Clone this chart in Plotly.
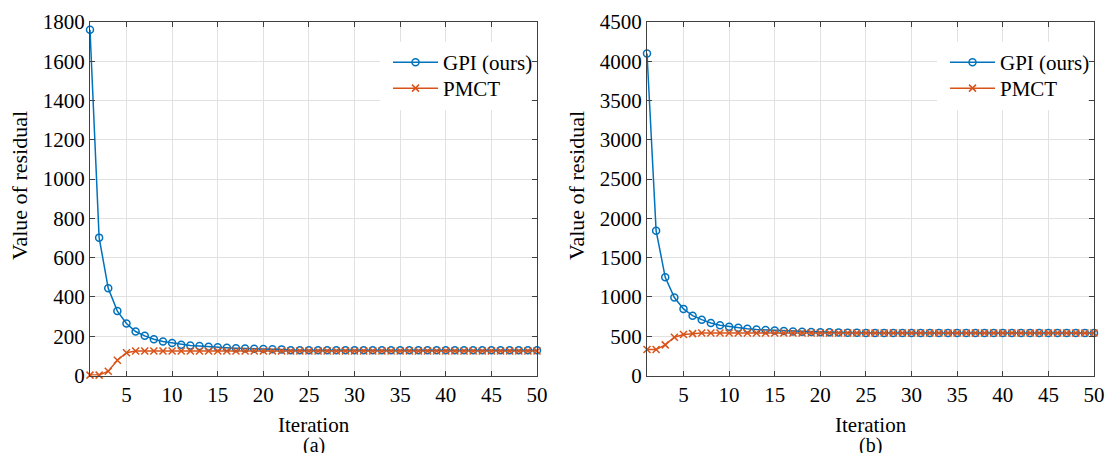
import plotly.graph_objects as go
from plotly.subplots import make_subplots

iterations = list(range(1, 51))

# (a)
gpi_a = [1760, 702, 444, 328, 265, 224, 202, 185, 173, 166, 157, 153, 150, 146, 144,
         141, 139, 137, 136, 135, 134, 133] + [128] * 28
pmct_a = [2, 2, 22, 78, 116, 125] + [125] * 44

# (b)
gpi_b = [4100, 1842, 1250, 992, 848, 762, 711, 669, 640, 622, 609, 595, 585, 580, 572,
         565, 560, 557, 554, 551, 549, 547, 545, 544] + [542] * 26
pmct_b = [330, 330, 390, 487, 521, 533] + [540] * 44

x_ticks = [5, 10, 15, 20, 25, 30, 35, 40, 45, 50]
y_ticks_a = list(range(0, 1801, 200))
y_ticks_b = list(range(0, 4501, 500))

BLUE = "#0072BD"
ORANGE = "#D95319"
FONT = "Liberation Serif"
FS = 21

fig = make_subplots(rows=1, cols=2)

def add(col, gpi, pmct, leg_gpi, leg_pmct):
    fig.add_trace(go.Scatter(x=iterations, y=gpi, mode="lines+markers", name="GPI (ours)",
                             line=dict(color=BLUE, width=1.5),
                             marker=dict(symbol="circle-open", size=7, color=BLUE, line=dict(width=1.5)),
                             cliponaxis=False, legend=leg_gpi),
                  row=1, col=col)
    fig.add_trace(go.Scatter(x=iterations, y=pmct, mode="lines+markers", name="PMCT",
                             line=dict(color=ORANGE, width=1.5),
                             marker=dict(symbol="x-thin-open", size=7, color=ORANGE, line=dict(width=1.5, color=ORANGE)),
                             cliponaxis=False, legend=leg_pmct),
                  row=1, col=col)

add(1, gpi_a, pmct_a, "legend", "legend2")
add(2, gpi_b, pmct_b, "legend3", "legend4")

W, H = 1114, 455
dom_a = [90 / W, 537 / W]
dom_b = [647 / W, 1094 / W]
dom_y = [(H - 375.5) / H, (H - 22) / H]

axis_common = dict(showline=True, linecolor="#404040", linewidth=1, mirror="ticks",
                   ticks="inside", ticklen=5, tickcolor="#404040", automargin=False,
                   showgrid=True, gridcolor="#e1e1e1", gridwidth=1, zeroline=False,
                   tickfont=dict(family=FONT, size=FS, color="#000"))

fig.update_xaxes(**axis_common, range=[1, 50], tickvals=x_ticks)
fig.update_yaxes(**axis_common)
fig.update_xaxes(domain=dom_a, row=1, col=1)
fig.update_xaxes(domain=dom_b, row=1, col=2)
fig.update_yaxes(domain=dom_y, range=[0, 1800], tickvals=y_ticks_a, row=1, col=1)
fig.update_yaxes(domain=dom_y, range=[0, 4500], tickvals=y_ticks_b, row=1, col=2)

legend_common = dict(bgcolor="rgba(0,0,0,0)", borderwidth=0, font=dict(family=FONT, size=FS, color="#000"),
                     xanchor="left", yanchor="top", itemwidth=45)
row1_top, row2_top = 42, 68
left_a, left_b = 388, 945
fig.update_layout(
    legend=dict(**legend_common, x=left_a / W, y=(H - row1_top) / H),
    legend2=dict(**legend_common, x=left_a / W, y=(H - row2_top) / H),
    legend3=dict(**legend_common, x=left_b / W, y=(H - row1_top) / H),
    legend4=dict(**legend_common, x=left_b / W, y=(H - row2_top) / H),
)

# white legend boxes (MATLAB style, no border)
for x0, x1 in ((380, 531), (937, 1088)):
    fig.add_shape(type="rect", xref="paper", yref="paper", layer="above",
                  x0=x0 / W, x1=x1 / W, y0=(H - 110) / H, y1=(H - 42) / H,
                  fillcolor="white", line=dict(width=0))

def txt(text, xpx, ypx, hpx, size, angle=0):
    fig.add_annotation(text=text, x=xpx / W, y=(H - ypx) / H, xref="paper", yref="paper",
                       showarrow=False, textangle=angle, xanchor="center", yanchor="middle",
                       height=hpx, font=dict(family=FONT, size=size, color="#000"))

for dom, lab, ylab_x in ((dom_a, "(a)", 19), (dom_b, "(b)", 576)):
    cx = (dom[0] + dom[1]) / 2 * W
    txt("Iteration", cx, 425, 16, 21)
    txt(lab, cx, 445, 16, 20)
    txt("Value of residual", ylab_x, 186, None, 22, angle=-90)

fig.update_layout(width=W, height=H, margin=dict(l=0, r=0, t=0, b=0),
                  plot_bgcolor="white", paper_bgcolor="white", showlegend=True)

fig.write_html("out.html", config={"displayModeBar": False},
               post_script="document.body.style.margin='0';document.body.style.overflow='hidden';")
